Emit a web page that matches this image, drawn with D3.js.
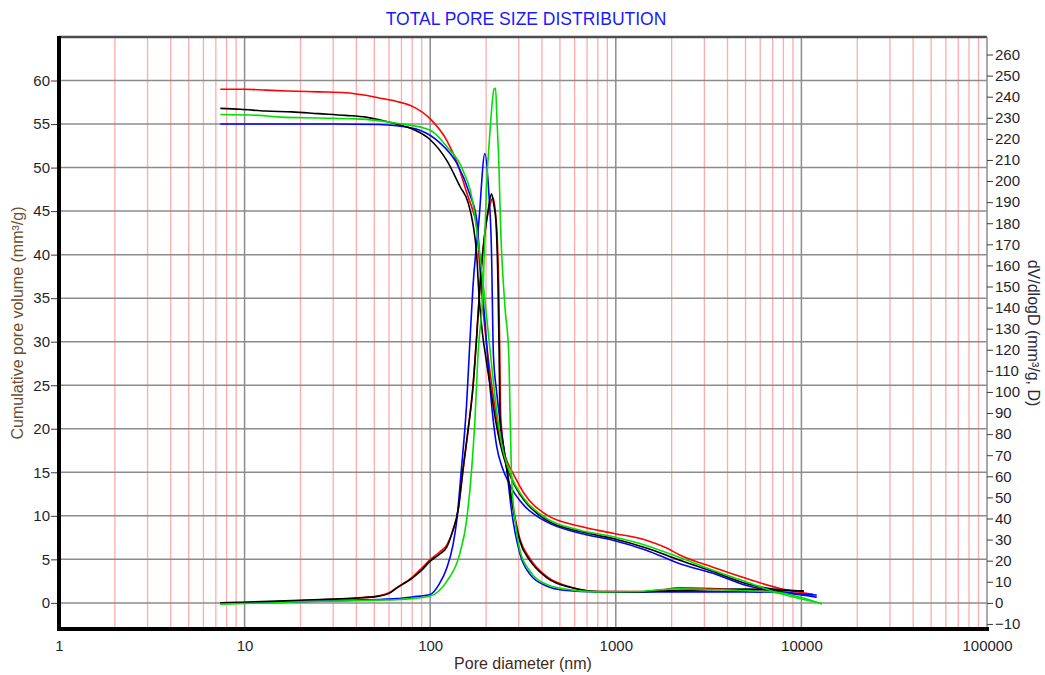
<!DOCTYPE html>
<html lang="en">
  <head>
    <meta charset="utf-8">
    <title>Total pore size distribution</title>
    <style>
      body { margin: 0; background: #fff; }
      svg text { font-family: "Liberation Sans", Arial, sans-serif; }
    </style>
  </head>
  <body>
    <div class="chart"></div>

    <script src="https://d3js.org/d3.v7.min.js" charset="utf-8"></script>
    <script type="text/javascript">
      // axis ticks
      var xTickLabels = [1, 10, 100, 1000, 10000, 100000];
      var leftTicks = [0, 5, 10, 15, 20, 25, 30, 35, 40, 45, 50, 55, 60];
      var rightTicks = [-10, 0, 10, 20, 30, 40, 50, 60, 70, 80, 90, 100, 110, 120, 130,
                        140, 150, 160, 170, 180, 190, 200, 210, 220, 230, 240, 250, 260];

      // cumulative pore volume (mm3/g) vs pore diameter (nm)
      var cumBlack = [[7.4,56.8],[9.5,56.7],[13,56.5],[18,56.4],[25,56.2],[35,56.0],[45,55.8],[53,55.5],
        [66,55.0],[80.7,54.4],[100,53.2],[123,50.8],[145,47.8],[160,46.0],[170,43.5],[178,40.0],[183,35.5],
        [190,31.5],[200,28.0],[212,24.5],[225,21.0],[240,18.0],[255,16.0],[279,13.9],[320,11.8],[424,9.5],
        [641,8.2],[966,7.4],[1460,6.3],[2210,4.9],[3340,3.6],[5070,2.2],[7670,1.5],[10300,1.35]];
      var cumRed = [[7.4,59.0],[10,59.0],[13,58.9],[17,58.8],[25,58.7],[35,58.6],[45,58.3],[53,58.0],
        [66,57.6],[80.7,57.0],[100,55.6],[123,53.1],[140,50.5],[158,47.0],[170,45.0],[178,43.2],[185,38.5],
        [195,32.5],[210,26.5],[225,22.0],[240,18.7],[258,16.4],[279,14.9],[320,12.6],[424,10.1],[641,8.8],
        [966,8.0],[1460,7.2],[1880,6.3],[2210,5.5],[3340,4.1],[5070,2.8],[7670,1.65],[11560,1.0]];
      var cumBlue = [[7.4,55.0],[15,55.0],[30,55.0],[53,54.95],[66,54.8],[88,54.3],[112,52.9],[139,50.5],
        [163,47.0],[178,44.0],[186,39.0],[196,33.0],[206,27.0],[216,22.0],[228,18.0],[245,15.5],[265,13.8],
        [279,12.9],[320,11.2],[424,9.3],[641,8.0],[966,7.2],[1460,6.05],[2210,4.5],[3340,3.4],[5070,2.0],
        [7670,1.26],[12100,0.9]];
      var cumGreen = [[7.4,56.1],[12,56.0],[15.5,55.8],[25,55.7],[40,55.6],[66,55.1],[100,54.3],[123,52.4],
        [150,49.7],[170,45.9],[180,42.0],[190,38.0],[200,33.5],[215,27.0],[230,21.5],[245,17.8],[262,15.6],
        [279,14.1],[320,12.0],[424,9.7],[641,8.35],[966,7.6],[1460,6.6],[2210,5.2],[3340,3.75],[5070,2.4],
        [7670,1.07],[12900,-0.07]];

      // dV/dlogD (mm3/g) vs pore diameter (nm)
      var dvBlack = [[7.4,0],[10,0.3],[15,0.8],[20,1.2],[30,1.8],[40,2.3],[53,3.2],[60,4.5],[66,7.0],
        [80.7,12.0],[90,15.5],[100,19.8],[112,23.0],[123,26.5],[132,34.0],[142,45.0],[146,54.0],[150,63.0],
        [160,82.0],[170,102],[178,126],[186,152],[195,172],[205,186],[214,194],[220,189],[226,181],
        [232,150],[235,120],[238,86],[248,74],[258,64],[279,45],[305,29],[345,20],[424,12],[588,7.0],
        [800,5.3],[1350,5.2],[2210,5.9],[5070,6.5],[7670,6.0],[10300,5.6]];
      var dvRed = [[7.4,0],[10,0.2],[15,0.6],[20,1.1],[30,1.7],[40,2.3],[53,3.3],[60,4.8],[66,7.2],
        [80.7,12.5],[90,16.5],[100,20.5],[112,24.0],[123,27.5],[133,34.5],[142,45.0],[150,62.0],[160,82.0],
        [170,103],[178,127],[186,152],[195,172],[205,185],[212,190],[218,192],[224,186],[230,172],
        [234,150],[237,120],[240,88],[258,65],[279,46],[305,30],[345,21],[424,12.5],[588,7.2],[800,5.4],
        [1350,5.3],[1700,6.0],[2210,7.1],[3340,6.8],[5070,6.0],[7670,5.2],[11560,3.7]];
      var dvBlue = [[7.4,-0.3],[10,0],[15,0.3],[20,0.6],[30,1.0],[40,1.3],[53,1.6],[66,2.0],[80,2.8],
        [100,4.0],[112,9.0],[123,16.6],[133,28.0],[139,39.0],[147,62.6],[157,94.0],[163,121],[170,150],
        [183,181],[197,213],[206,197],[214,166],[219,118],[228,100],[238,86],[258,64],[273,45],[305,23],
        [345,13.5],[424,8.0],[524,6.0],[790,5.2],[1350,5.2],[2210,5.2],[5070,5.2],[7670,4.8],[12100,2.7]];
      var dvGreen = [[7.4,-0.6],[10,-0.3],[15,0],[20,0.5],[30,0.8],[40,1.0],[53,1.3],[66,1.5],[80,2.0],
        [100,3.2],[123,10.3],[144,23.0],[157,39.0],[167,62.6],[174,86.0],[181,118],[193,150],[201,197],
        [209,221],[221,243.6],[225,244],[229,229],[235,205],[239,181],[253,140],[265,118],[270,86],
        [275,58],[287,39],[305,24.6],[345,15.0],[424,8.7],[524,6.7],[790,5.2],[1350,5.4],[1600,6.0],
        [2210,6.7],[3340,6.3],[5070,5.8],[7670,4.8],[10000,2.5],[12900,-0.6]];

      var plotLeft = 59, plotRight = 987, plotTop = 37, plotBottom = 629;

      var svg = d3.select(".chart")
        .append("svg")
          .attr("width", 1045)
          .attr("height", 675);

      var x = d3.scaleLog().domain([1, 100000]).range([plotLeft, plotRight]);
      var yL = d3.scaleLinear().domain([-3, 65]).range([plotBottom, plotTop]);
      var yR = d3.scaleLinear().domain([-12.4, 268.3]).range([plotBottom, plotTop]);

      // minor decade positions 2..9
      var minorX = [];
      [1, 10, 100, 1000, 10000].forEach(function(d) {
        for (var m = 2; m <= 9; m++) minorX.push(d * m);
      });
      var decadeX = xTickLabels.slice(1, -1);

      var grid = svg.append("g").attr("class", "grid");

      grid.selectAll("line.minor")
        .data(minorX)
        .enter().append("line")
          .attr("class", "minor")
          .attr("x1", function(d) { return x(d); })
          .attr("x2", function(d) { return x(d); })
          .attr("y1", plotTop)
          .attr("y2", plotBottom)
          .attr("stroke", "#ffabab")
          .attr("stroke-width", 1.3);

      grid.selectAll("line.hgrid")
        .data(leftTicks)
        .enter().append("line")
          .attr("class", "hgrid")
          .attr("x1", plotLeft)
          .attr("x2", plotRight)
          .attr("y1", function(d) { return yL(d); })
          .attr("y2", function(d) { return yL(d); })
          .attr("stroke", "#8c8c8c")
          .attr("stroke-width", 1.5);

      grid.selectAll("line.decade")
        .data(decadeX)
        .enter().append("line")
          .attr("class", "decade")
          .attr("x1", function(d) { return x(d); })
          .attr("x2", function(d) { return x(d); })
          .attr("y1", plotTop)
          .attr("y2", plotBottom)
          .attr("stroke", "#8c8c8c")
          .attr("stroke-width", 1.5);

      // frame: top and right thin, left and bottom thick
      svg.append("line")
        .attr("x1", plotLeft).attr("x2", plotRight).attr("y1", plotTop).attr("y2", plotTop)
        .attr("stroke", "#4d4d4d").attr("stroke-width", 2.5);
      svg.append("line")
        .attr("x1", plotRight).attr("x2", plotRight).attr("y1", plotTop).attr("y2", plotBottom)
        .attr("stroke", "#8c8c8c").attr("stroke-width", 1.5);

      // left axis
      var gLeft = svg.append("g").attr("transform", "translate(" + plotLeft + ",0)");
      gLeft.call(d3.axisLeft(yL).tickValues(d3.range(-2.5, 65, 1.25)).tickSize(5).tickFormat(""));
      gLeft.call(d3.axisLeft(yL).tickValues(leftTicks).tickSize(8).tickPadding(1));

      // right axis
      var gRight = svg.append("g").attr("transform", "translate(" + plotRight + ",0)");
      gRight.call(d3.axisRight(yR).tickValues(d3.range(-12.5, 268, 2.5)).tickSize(3).tickFormat(""));
      gRight.call(d3.axisRight(yR).tickValues(rightTicks).tickSize(6).tickPadding(2));

      // bottom axis
      var gBottom = svg.append("g").attr("transform", "translate(0," + plotBottom + ")");
      gBottom.call(d3.axisBottom(x).tickValues(minorX.concat(xTickLabels)).tickSize(7).tickFormat(""));
      gBottom.call(d3.axisBottom(x).tickValues(xTickLabels).tickSize(0).tickPadding(11)
        .tickFormat(d3.format("d")));

      svg.selectAll(".domain").remove();
      svg.selectAll(".tick line").attr("stroke", "#3a3a3a");
      svg.selectAll(".tick text")
        .attr("fill", "#1f1f2e")
        .style("font-family", '"Liberation Sans", Arial, sans-serif')
        .style("font-size", "15px");

      svg.append("line")
        .attr("x1", plotLeft).attr("x2", plotLeft).attr("y1", plotTop - 1).attr("y2", plotBottom + 2)
        .attr("stroke", "#000").attr("stroke-width", 4);
      svg.append("line")
        .attr("x1", plotLeft - 2).attr("x2", plotRight + 2).attr("y1", plotBottom).attr("y2", plotBottom)
        .attr("stroke", "#000").attr("stroke-width", 4);

      // curves
      var lineL = d3.line()
        .x(function(d) { return x(d[0]); })
        .y(function(d) { return yL(d[1]); })
        .curve(d3.curveMonotoneX);
      var lineR = d3.line()
        .x(function(d) { return x(d[0]); })
        .y(function(d) { return yR(d[1]); })
        .curve(d3.curveMonotoneX);

      var series = [
        {data: cumRed, line: lineL, color: "#ff0000"},
        {data: dvRed, line: lineR, color: "#ff0000"},
        {data: cumBlue, line: lineL, color: "#0000ff"},
        {data: dvBlue, line: lineR, color: "#0000ff"},
        {data: cumBlack, line: lineL, color: "#000000"},
        {data: dvBlack, line: lineR, color: "#000000"},
        {data: cumGreen, line: lineL, color: "#00e000"},
        {data: dvGreen, line: lineR, color: "#00e000"}
      ];

      svg.append("g")
        .attr("class", "curves")
        .selectAll("path")
        .data(series)
        .enter().append("path")
          .attr("d", function(s) { return s.line(s.data); })
          .attr("fill", "none")
          .attr("stroke", function(s) { return s.color; })
          .attr("stroke-width", 1.6)
          .attr("stroke-linejoin", "round");

      // titles
      svg.append("text")
        .attr("x", 526).attr("y", 25)
        .attr("text-anchor", "middle")
        .attr("fill", "#1a1aff")
        .style("font-size", "17.5px")
        .text("TOTAL PORE SIZE DISTRIBUTION");

      svg.append("text")
        .attr("x", 523).attr("y", 669)
        .attr("text-anchor", "middle")
        .attr("fill", "#3f2a1e")
        .style("font-size", "16px")
        .text("Pore diameter (nm)");

      svg.append("text")
        .attr("transform", "translate(23,323) rotate(-90)")
        .attr("text-anchor", "middle")
        .attr("fill", "#6b4e2c")
        .style("font-size", "16px")
        .text("Cumulative pore volume (mm³/g)");

      svg.append("text")
        .attr("transform", "translate(1028,333) rotate(90)")
        .attr("text-anchor", "middle")
        .attr("fill", "#2a2a3a")
        .style("font-size", "16px")
        .text("dV/dlogD (mm³/g, D)");
    </script>
  </body>
</html>
